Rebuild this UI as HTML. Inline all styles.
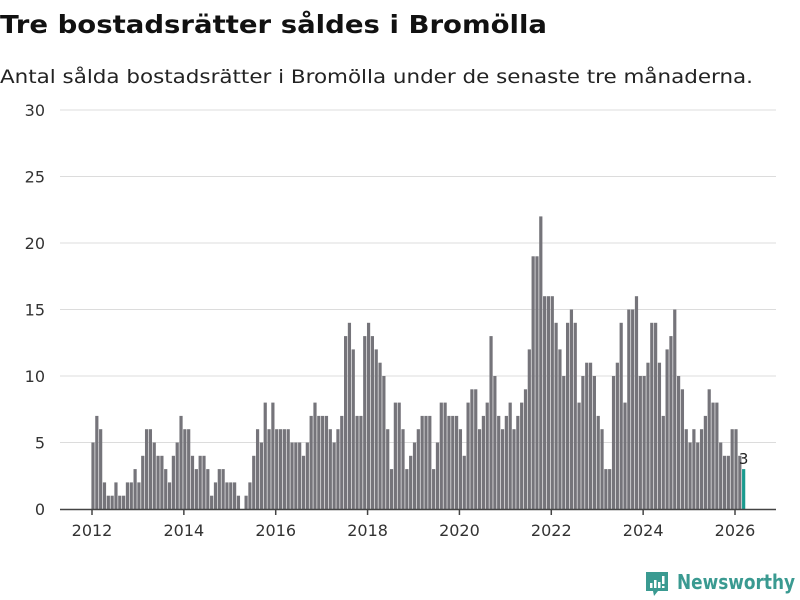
<!DOCTYPE html>
<html><head><meta charset="utf-8">
<style>
html,body{margin:0;padding:0;background:#fff;width:800px;height:600px;overflow:hidden}
svg{display:block}
text{font-family:"DejaVu Sans","Liberation Sans",sans-serif}
</style></head>
<body>
<svg id="chart" width="800" height="600" viewBox="0 0 800 600">
  <text x="0" y="33" font-size="25" font-weight="bold" fill="#111" textLength="547" lengthAdjust="spacingAndGlyphs">Tre bostadsrätter såldes i Bromölla</text>
  <text x="0" y="83" font-size="19" fill="#222" textLength="753" lengthAdjust="spacingAndGlyphs">Antal sålda bostadsrätter i Bromölla under de senaste tre månaderna.</text>
  <g id="grid"></g>
  <g id="yticks"></g>
  <g id="bars"></g>
  <g id="xaxis"></g>
  <g>
    <path d="M646 572 h22 v19 h-10 l-4 5 l-1 -5 h-7 z" fill="#3a9a91"/>
    <rect x="650" y="583" width="2.5" height="5" fill="#fff"/>
    <rect x="654" y="580" width="2.5" height="8" fill="#fff"/>
    <rect x="658" y="582" width="2.5" height="6" fill="#fff"/>
    <rect x="662" y="576" width="2.5" height="8" fill="#fff"/>
    <rect x="662" y="586" width="2.5" height="2" fill="#fff"/>
    <text x="677" y="589" font-size="20" font-weight="bold" fill="#3a9a91" textLength="118" lengthAdjust="spacingAndGlyphs">Newsworthy</text>
  </g>
</svg>
<script>
const startYear = 2012;
const values = [
5,7,6,2,1,1,2,1,1,2,2,3,
2,4,6,6,5,4,4,3,2,4,5,7,
6,6,4,3,4,4,3,1,2,3,3,2,
2,2,1,0,1,2,4,6,5,8,6,8,
6,6,6,6,5,5,5,4,5,7,8,7,
7,7,6,5,6,7,13,14,12,7,7,13,
14,13,12,11,10,6,3,8,8,6,3,4,
5,6,7,7,7,3,5,8,8,7,7,7,
6,4,8,9,9,6,7,8,13,10,7,6,
7,8,6,7,8,9,12,19,19,22,16,16,
16,14,12,10,14,15,14,8,10,11,11,10,
7,6,3,3,10,11,14,8,15,15,16,10,
10,11,14,14,11,7,12,13,15,10,9,6,
5,6,5,6,7,9,8,8,5,4,4,6,
6,4,3
];
const yTicks = [0,5,10,15,20,25,30];
const xTicks = [2012,2014,2016,2018,2020,2022,2024,2026];

const NS = "http://www.w3.org/2000/svg";
const x0 = 92, yearPx = (735 - 92) / 14;
const monthPx = yearPx / 12;
function xScale(monthIndex){ return x0 + monthIndex * monthPx; }
function yScale(v){ return 509 - v * (399 / 30); }
function mk(tag, attrs, parent){
  const e = document.createElementNS(NS, tag);
  for (const k in attrs) e.setAttribute(k, attrs[k]);
  parent.appendChild(e);
  return e;
}
const grid = document.getElementById('grid');
const yt = document.getElementById('yticks');
yTicks.forEach(v => {
  if (v > 0) {
    const l = mk('line', {x1:60, x2:776, y1:yScale(v), y2:yScale(v), stroke:'#dcdcdc', 'stroke-width':1}, grid);
    
    
  }
  const t = mk('text', {x:45, y:yScale(v)+6, 'font-size':16, fill:'#333', 'text-anchor':'end'}, yt);
  t.textContent = v;
  
  
});
const bars = document.getElementById('bars');
const last = values.length - 1;
values.forEach((v, i) => {
  const cx = xScale(i) + 1;
  const r = mk('rect', {x:cx-1.6, y:yScale(v), width:3.2, height:yScale(0)-yScale(v), fill: i === last ? '#1a9a8e' : '#75747a'}, bars);
  
  
});
const lt = mk('text', {x:xScale(last)+1, y:yScale(values[last])-5, 'font-size':15, fill:'#222', 'text-anchor':'middle'}, bars);
lt.textContent = values[last];



const xa = document.getElementById('xaxis');
const al = mk('line', {x1:60, x2:776, y1:509.5, y2:509.5, stroke:'#444', 'stroke-width':1.5}, xa);


xTicks.forEach(yr => {
  const x = xScale((yr - startYear) * 12);
  const tk = mk('line', {x1:x, x2:x, y1:509, y2:515, stroke:'#444', 'stroke-width':1.5}, xa);
  
  
  const t = mk('text', {x:x, y:536, 'font-size':16, fill:'#333', 'text-anchor':'middle'}, xa);
  t.textContent = yr;
  
  
});
</script>
</body></html>
